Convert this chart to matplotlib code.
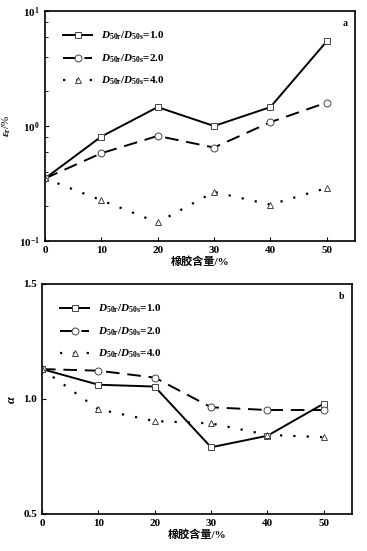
import matplotlib
matplotlib.use("Agg")
import matplotlib.pyplot as plt
from matplotlib.ticker import LogLocator, NullFormatter

plt.rcParams['font.family'] = ['Liberation Serif', 'Noto Sans CJK SC']
plt.rcParams['font.weight'] = 'bold'
plt.rcParams['mathtext.fontset'] = 'custom'
plt.rcParams['mathtext.rm'] = 'Liberation Serif:bold'
plt.rcParams['mathtext.it'] = 'Liberation Serif:italic:bold'
plt.rcParams['mathtext.bf'] = 'Liberation Serif:bold'

# data
rubber = [0, 10, 20, 30, 40, 50]
labels = [r'$D_{50\mathrm{r}}/D_{50\mathrm{s}}$=1.0',
          r'$D_{50\mathrm{r}}/D_{50\mathrm{s}}$=2.0',
          r'$D_{50\mathrm{r}}/D_{50\mathrm{s}}$=4.0']
eps_r1 = [0.35, 0.81, 1.46, 1.0, 1.46, 5.45]
eps_r2 = [0.35, 0.58, 0.82, 0.65, 1.08, 1.6]
eps_r4 = [0.35, 0.226, 0.145, 0.267, 0.207, 0.289]
alpha_r1 = [1.13, 1.062, 1.054, 0.79, 0.84, 0.98]
alpha_r2 = [1.13, 1.123, 1.093, 0.964, 0.952, 0.952]
alpha_r4 = [1.13, 0.955, 0.904, 0.894, 0.844, 0.834]

styles = [dict(ls='-', marker='s', lw=1.4, ms=4.5),
          dict(ls=(0, (7, 4)), marker='o', lw=1.4, ms=5),
          dict(ls=(0, (1, 5)), marker='^', lw=1.6, ms=5)]

fig = plt.figure(figsize=(3.67, 5.51), dpi=100)
ax1 = fig.add_axes([0.1226, 0.5626, 0.8444, 0.4174])
ax2 = fig.add_axes([0.1144, 0.0672, 0.8446, 0.4174])


def draw(ax, series):
    for ys, st, lab in zip(series, styles, labels):
        ax.plot(rubber, ys, color='black', ls=st['ls'], lw=st['lw'],
                marker=st['marker'], markersize=st['ms'], markerfacecolor='white',
                markeredgecolor='#444444', markeredgewidth=0.7, label=lab)
    ax.set_xlim(0, 55)
    ax.set_xticks([0, 10, 20, 30, 40, 50])
    ax.tick_params(direction='in', labelsize=8, top=False, right=False, length=3)
    ax.tick_params(which='minor', direction='in', length=2)
    for s in ax.spines.values():
        s.set_linewidth(1.2)
    ax.set_xlabel('橡胶含量/%', fontsize=8, fontweight='bold', labelpad=1)
    ax.legend(loc='upper left', bbox_to_anchor=(0.045, 0.937), frameon=False,
              fontsize=8, handlelength=2.6, labelspacing=0.9, handletextpad=0.8,
              borderaxespad=0)


draw(ax1, [eps_r1, eps_r2, eps_r4])
ax1.set_yscale('log')
ax1.set_ylim(0.1, 10)
ax1.yaxis.set_major_locator(LogLocator(base=10))
ax1.yaxis.set_minor_locator(LogLocator(base=10, subs=[2, 4, 6, 8]))
ax1.yaxis.set_minor_formatter(NullFormatter())
ax1.set_ylabel(r'$\varepsilon_{\mathrm{r}}$/%', fontsize=8, labelpad=4)
ax1.text(0.975, 0.965, 'a', transform=ax1.transAxes, fontsize=7,
         fontweight='bold', ha='right', va='top')

draw(ax2, [alpha_r1, alpha_r2, alpha_r4])
ax2.set_ylim(0.5, 1.5)
ax2.set_yticks([0.5, 1.0, 1.5])
ax2.set_ylabel(r'$\alpha$', fontsize=9, labelpad=4)
ax2.text(0.975, 0.965, 'b', transform=ax2.transAxes, fontsize=7,
         fontweight='bold', ha='right', va='top')

fig.savefig('out.png', dpi=100)
